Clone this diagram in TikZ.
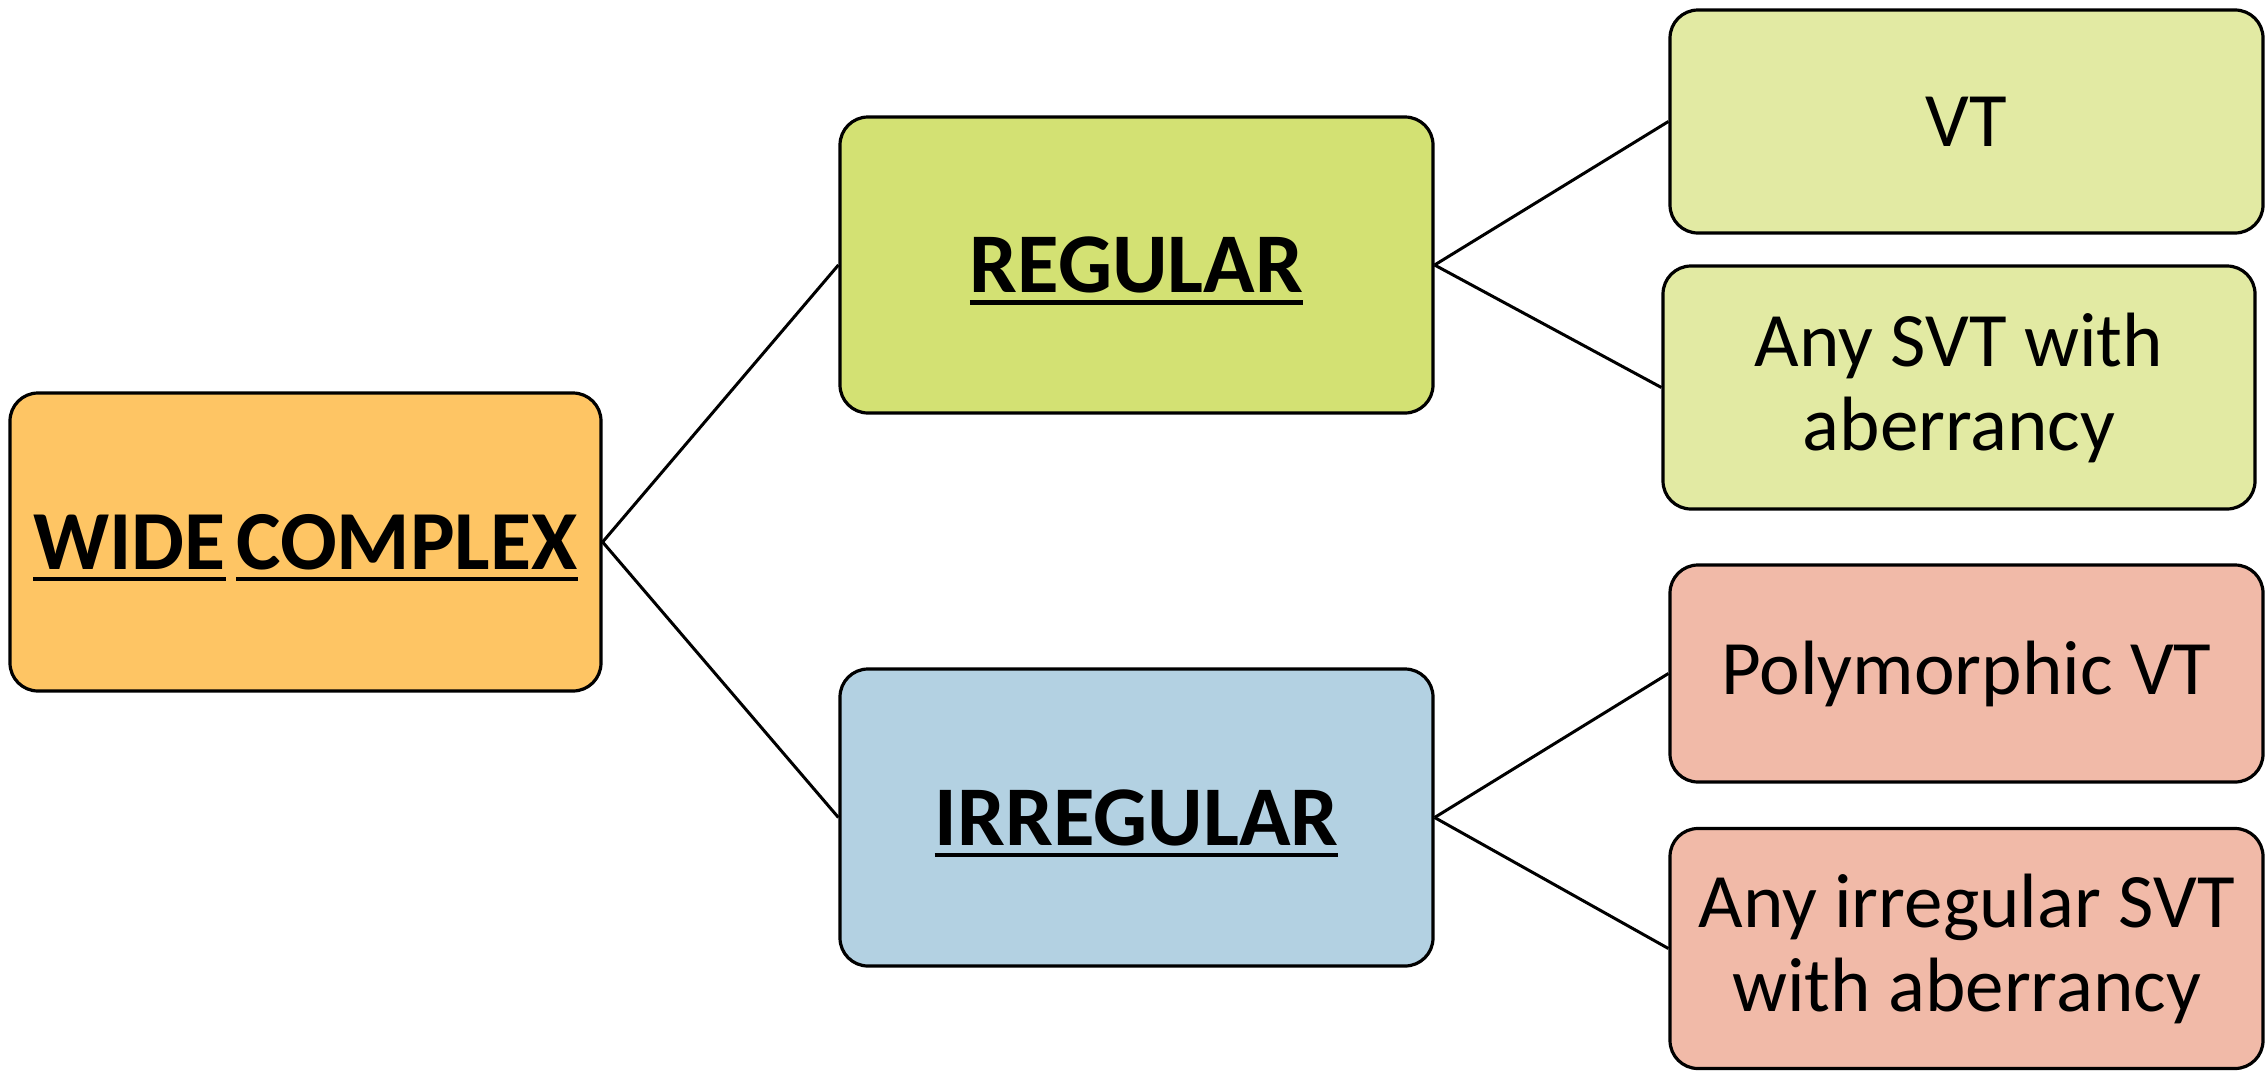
\documentclass[tikz,border=0pt]{standalone}
\usepackage{fontspec}
\setmainfont{Carlito}
\definecolor{orangefill}{HTML}{FEC564}
\definecolor{greenfill}{HTML}{D3E173}
\definecolor{palegreen}{HTML}{E2EAA3}
\definecolor{bluefill}{HTML}{B3D1E2}
\definecolor{pinkfill}{HTML}{F1BAA8}
% underline a single word with a thick rule
\newcommand\ulword[1]{\setbox0\hbox{#1}\rlap{\raisebox{-12pt}[0pt][0pt]{\rule{\wd0}{4.5pt}}}\box0\relax}
\begin{document}
\begin{tikzpicture}[x=1pt,y=-1pt,
  box/.style={draw=black,line width=3.2pt,rounded corners=28pt,align=center,inner sep=0pt},
  headbox/.style={box,font=\fontsize{85}{92}\selectfont\bfseries},
  leafbox/.style={box,font=\fontsize{77}{84}\selectfont},
  link/.style={line width=3pt}]
\useasboundingbox (0,0) rectangle (2267,1071);
\node[headbox,font=\fontsize{84}{92}\selectfont\bfseries,fill=orangefill,minimum width=591pt,minimum height=298pt] (wide) at (305.5,542) {\ulword{WIDE}\hspace{-0.1em} \ulword{COMPLEX}};
\node[headbox,fill=greenfill,minimum width=593pt,minimum height=296pt] (reg) at (1136.5,265) {\ulword{REGULAR}};
\node[headbox,fill=bluefill,minimum width=593pt,minimum height=297pt] (irr) at (1136.5,817.5) {\ulword{IRREGULAR}};
\node[leafbox,fill=palegreen,minimum width=593pt,minimum height=223pt] (vt) at (1966.5,121.5) {VT};
\node[leafbox,fill=palegreen,minimum width=592pt,minimum height=243pt] (svt) at (1959,387.5) {Any SVT with\\aberrancy};
\node[leafbox,fill=pinkfill,minimum width=593pt,minimum height=217pt] (poly) at (1966.5,673.5) {Polymorphic VT};
\node[leafbox,fill=pinkfill,minimum width=593pt,minimum height=240pt] (anyirr) at (1966.5,948.5) {Any irregular SVT\\with aberrancy};
\draw[link] (wide.east) -- (reg.west);
\draw[link] (wide.east) -- (irr.west);
\draw[link] (reg.east) -- (vt.west);
\draw[link] (reg.east) -- (svt.west);
\draw[link] (irr.east) -- (poly.west);
\draw[link] (irr.east) -- (anyirr.west);
\end{tikzpicture}
\end{document}
